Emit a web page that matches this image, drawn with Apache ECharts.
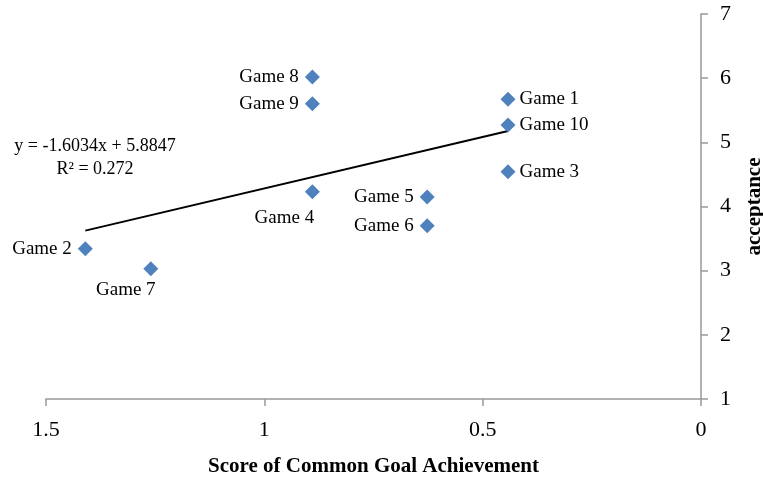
<!DOCTYPE html>
<html>
<head>
<meta charset="utf-8">
<script src="https://cdn.jsdelivr.net/npm/echarts@6/dist/echarts.min.js"></script>
<style>
  html, body { margin: 0; padding: 0; background: #fff; }
  #chart { width: 763px; height: 479px; }
</style>
</head>
<body>
<div id="chart"></div>
<script>
// Games and their scores
const games = ['Game 1', 'Game 2', 'Game 3', 'Game 4', 'Game 5', 'Game 6', 'Game 7', 'Game 8', 'Game 9', 'Game 10'];
const goalScore = [0.442, 1.41, 0.442, 0.89, 0.627, 0.627, 1.26, 0.89, 0.89, 0.442];
const acceptance = [5.67, 3.34, 4.54, 4.23, 4.15, 3.70, 3.03, 6.02, 5.60, 5.27];
// Label placement per game
const labelSide = ['right', 'left', 'right', 'below', 'left', 'left', 'below', 'left', 'left', 'right'];

// Linear trend line: y = slope * x + intercept
const slope = -1.6034;
const intercept = 5.8847;
const rSquared = 0.272;

const FONT = '"Liberation Serif", "Times New Roman", serif';

const xMin = Math.min(...goalScore);
const xMax = Math.max(...goalScore);
const trend = [
  [xMax, slope * xMax + intercept],
  [xMin, slope * xMin + intercept]
];

function labelFor(side, name) {
  const base = { show: true, formatter: '{b}', color: '#000', fontFamily: FONT, fontSize: 19 };
  if (side === 'right') return Object.assign(base, { position: 'right', distance: 4 });
  if (side === 'left') return Object.assign(base, { position: 'left', distance: 6 });
  const off = name === 'Game 4' ? [-28, 6] : [-25, 1];
  return Object.assign(base, { position: 'bottom', distance: 3, offset: off });
}

const points = games.map((g, i) => ({
  name: g,
  value: [goalScore[i], acceptance[i]],
  label: labelFor(labelSide[i], g)
}));

const chart = echarts.init(document.getElementById('chart'));
chart.setOption({
  animation: false,
  backgroundColor: '#fff',
  grid: { left: 46, right: 62, top: 14, bottom: 80, outerBoundsMode: 'none', containLabel: false },
  xAxis: {
    type: 'value',
    inverse: true,
    min: 0, max: 1.5, interval: 0.5,
    name: 'Score of Common Goal Achievement',
    nameLocation: 'middle',
    nameGap: 57,
    nameMoveOverlap: false,
    nameTextStyle: { fontFamily: FONT, fontSize: 21, fontWeight: 'bold', color: '#000' },
    axisLine: { onZero: false, lineStyle: { color: '#999', width: 1.5 } },
    axisTick: { show: true, length: 7, lineStyle: { color: '#999', width: 1.5 } },
    axisLabel: { fontFamily: FONT, fontSize: 22, color: '#000', margin: 20 },
    splitLine: { show: false }
  },
  yAxis: {
    type: 'value',
    position: 'right',
    min: 1, max: 7, interval: 1,
    name: 'acceptance',
    nameLocation: 'middle',
    nameGap: 43,
    nameRotate: 90,
    nameMoveOverlap: false,
    nameTextStyle: { fontFamily: FONT, fontSize: 21, fontWeight: 'bold', color: '#000' },
    axisLine: { show: true, onZero: false, lineStyle: { color: '#999', width: 1.5 } },
    axisTick: { show: true, length: 7, lineStyle: { color: '#999', width: 1.5 } },
    axisLabel: { fontFamily: FONT, fontSize: 22, color: '#000', margin: 19 },
    splitLine: { show: false }
  },
  graphic: [
    {
      type: 'text', x: 95, y: 135,
      style: {
        text: 'y = -1.6034x + 5.8847\nR² = ' + rSquared,
        fontFamily: FONT, fontSize: 18, fill: '#000',
        align: 'center', lineHeight: 23
      }
    }
  ],
  series: [
    {
      type: 'line',
      data: trend,
      symbol: 'none',
      lineStyle: { color: '#000', width: 2 },
      silent: true,
      z: 1
    },
    {
      type: 'scatter',
      data: points,
      symbol: 'diamond',
      symbolSize: 15,
      itemStyle: { color: '#4F81BD', opacity: 1 },
      z: 3
    }
  ]
});
</script>
</body>
</html>
